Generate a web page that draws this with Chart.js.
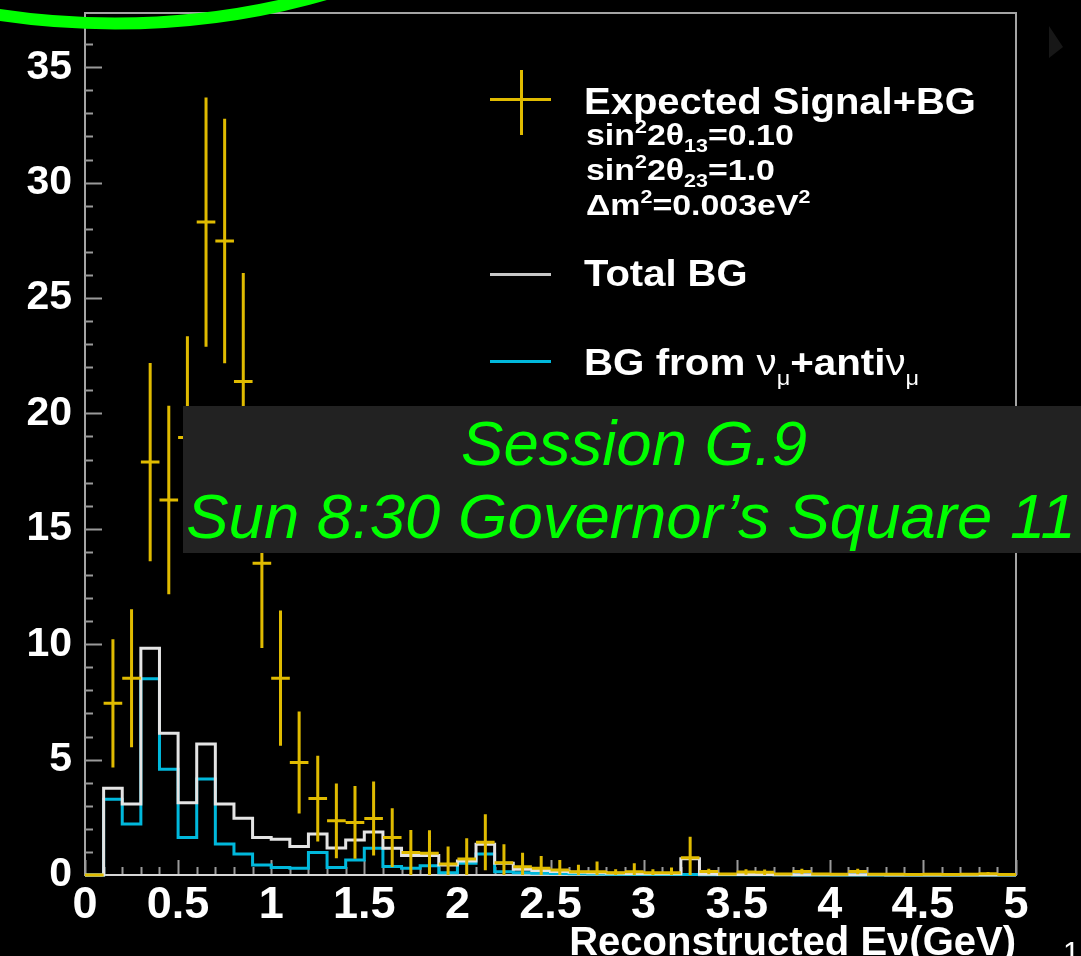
<!DOCTYPE html>
<html>
<head>
<meta charset="utf-8">
<title>Reconstructed Eν spectrum</title>
<script src="https://cdn.jsdelivr.net/npm/chart.js@4.4.1/dist/chart.umd.min.js"></script>
<style>
  html, body { margin: 0; padding: 0; background: #000; overflow: hidden; }
  #wrap { width: 1081px; height: 956px; position: relative; }
  canvas { display: block; }
</style>
</head>
<body>
<div id="wrap"><canvas id="chart" width="1081" height="956"></canvas></div>
<script>
// Reconstructed neutrino energy, 0.1 GeV bins from 0 to 5 GeV
const binLow = [0.0, 0.1, 0.2, 0.3, 0.4, 0.5, 0.6, 0.7, 0.8, 0.9,
                1.0, 1.1, 1.2, 1.3, 1.4, 1.5, 1.6, 1.7, 1.8, 1.9,
                2.0, 2.1, 2.2, 2.3, 2.4, 2.5, 2.6, 2.7, 2.8, 2.9,
                3.0, 3.1, 3.2, 3.3, 3.4, 3.5, 3.6, 3.7, 3.8, 3.9,
                4.0, 4.1, 4.2, 4.3, 4.4, 4.5, 4.6, 4.7, 4.8, 4.9];
const binWidth = 0.1;
const xMax = 5.0;
const yMax = 37.35;

// Total background
const totalBG = [0, 3.76, 3.08, 9.83, 6.14, 3.13, 5.68, 3.08, 2.46, 1.63,
                 1.55, 1.23, 1.78, 1.17, 1.52, 1.86, 1.16, 0.84, 0.84, 0.43,
                 0.61, 1.33, 0.51, 0.25, 0.20, 0.15, 0.12, 0.10, 0.08, 0.06,
                 0.05, 0.05, 0.70, 0.03, 0.02, 0.02, 0.02, 0.01, 0.01, 0.01,
                 0.01, 0.01, 0.01, 0, 0, 0, 0, 0, 0, 0];

// Background from numu + anti-numu
const numuBG = [0, 3.28, 2.21, 8.50, 4.58, 1.63, 4.16, 1.34, 0.91, 0.43,
                0.33, 0.29, 0.98, 0.33, 0.65, 1.16, 0.37, 0.29, 0.40, 0.10,
                0.51, 0.91, 0.14, 0.10, 0.08, 0.06, 0.05, 0.04, 0.03, 0.03,
                0.02, 0.02, 0.02, 0.01, 0.01, 0.01, 0.01, 0.01, 0, 0,
                0, 0, 0, 0, 0, 0, 0, 0, 0, 0];

// Expected signal + background and its statistical error
const signalBG = [0, 7.44, 8.53, 17.89, 16.25, 18.96, 28.29, 27.47, 21.38, 13.51,
                  8.53, 4.87, 3.31, 2.35, 2.28, 2.45, 1.62, 0.97, 0.94, 0.48,
                  0.69, 1.42, 0.53, 0.36, 0.29, 0.22, 0.14, 0.14, 0.10, 0.14,
                  0.10, 0.10, 0.75, 0.15, 0.04, 0.13, 0.12, 0.04, 0.15, 0.04,
                  0.03, 0.15, 0.03, 0.03, 0.02, 0.03, 0.02, 0.03, 0.05, 0.02];
const signalErr = [0, 2.78, 2.99, 4.29, 4.08, 4.38, 5.40, 5.30, 4.70, 3.67,
                   2.93, 2.21, 1.86, 1.62, 1.58, 1.60, 1.27, 0.98, 1.00, 0.75,
                   0.90, 1.21, 0.80, 0.60, 0.53, 0.43, 0.30, 0.44, 0.15, 0.37,
                   0.15, 0.22, 0.91, 0.12, 0.05, 0.12, 0.12, 0.05, 0.12, 0.05,
                   0.04, 0.12, 0.04, 0.04, 0.03, 0.04, 0.03, 0.04, 0.08, 0.03];

const FONT = "'Liberation Sans', Arial, Helvetica, sans-serif";
const COLORS = {
  yellow: '#e0bb00',
  cyan: '#00b8dc',
  white: '#e4e4e4',
  frame: '#a4a4a4',
  tick: '#9a9a9a',
  green: '#00ff00',
  box: '#222222'
};

// Step-histogram outline: a point at each lower bin edge plus the closing edge;
// each bin's value is carried from its lower edge to its upper edge
function histPoints(values) {
  const pts = [{ x: binLow[0], y: 0 }];
  binLow.forEach((lo, i) => pts.push({ x: lo + binWidth, y: values[i] }));
  return pts;
}

// Frame with inward ticks (major every 5 / 0.5, minor every 1 / 0.1)
const framePlugin = {
  id: 'frame',
  beforeDatasetsDraw(chart) {
    const { ctx, chartArea: a, scales: { x, y } } = chart;
    ctx.save();
    ctx.lineWidth = 2;
    ctx.strokeStyle = COLORS.frame;
    ctx.strokeRect(a.left, a.top, a.right - a.left, a.bottom - a.top);

    ctx.strokeStyle = COLORS.tick;
    ctx.beginPath();
    for (let v = 0; v <= Math.floor(y.max); v++) {
      const py = Math.round(y.getPixelForValue(v)) + 0.5;
      const len = v % 5 === 0 ? 17 : 8;
      ctx.moveTo(a.left, py);
      ctx.lineTo(a.left + len, py);
    }
    for (let k = 0; k <= 50; k++) {
      const px = Math.round(x.getPixelForValue(k / 10)) + 0.5;
      const len = k % 5 === 0 ? 15 : 8;
      ctx.moveTo(px, a.bottom);
      ctx.lineTo(px, a.bottom - len);
    }
    ctx.stroke();

    ctx.strokeStyle = '#d6d6d6';
    ctx.beginPath();
    ctx.moveTo(a.left, a.bottom);
    ctx.lineTo(a.right, a.bottom);
    ctx.stroke();
    ctx.restore();
  }
};

// Error crosses for the signal+BG points: bin-wide horizontal bar, vertical ±error
const errorBarPlugin = {
  id: 'errorBars',
  afterDatasetsDraw(chart) {
    const { ctx, scales: { x, y } } = chart;
    const meta = chart.getDatasetMeta(2);
    ctx.save();
    ctx.strokeStyle = COLORS.yellow;
    ctx.lineWidth = 3;
    ctx.beginPath();
    meta.data.forEach((pt, i) => {
      const x0 = x.getPixelForValue(binLow[i]);
      const x1 = x.getPixelForValue(binLow[i] + binWidth);
      ctx.moveTo(x0, pt.y);
      ctx.lineTo(x1, pt.y);
      const e = signalErr[i];
      if (e > 0) {
        ctx.moveTo(pt.x, y.getPixelForValue(Math.max(0, signalBG[i] - e)));
        ctx.lineTo(pt.x, y.getPixelForValue(signalBG[i] + e));
      }
    });
    ctx.stroke();
    ctx.restore();
  }
};

// Draws a run of text pieces (with super/subscripts) stretched horizontally by sx
function richText(ctx, x, baseline, sx, parts) {
  ctx.save();
  ctx.translate(x, baseline);
  ctx.scale(sx, 1);
  ctx.textBaseline = 'alphabetic';
  ctx.textAlign = 'left';
  let cx = 0;
  for (const p of parts) {
    ctx.font = p.font;
    ctx.fillText(p.t, cx, p.dy || 0);
    cx += ctx.measureText(p.t).width;
  }
  ctx.restore();
}

// Legend, session banner and slide decorations
const overlayPlugin = {
  id: 'overlay',
  afterDraw(chart) {
    const { ctx } = chart;
    ctx.save();

    // legend markers
    ctx.lineWidth = 3;
    ctx.strokeStyle = COLORS.yellow;
    ctx.beginPath();
    ctx.moveTo(490, 99.5); ctx.lineTo(551, 99.5);
    ctx.moveTo(521.5, 70); ctx.lineTo(521.5, 135);
    ctx.stroke();
    ctx.strokeStyle = '#c8c8c8';
    ctx.beginPath(); ctx.moveTo(490, 274.5); ctx.lineTo(551, 274.5); ctx.stroke();
    ctx.strokeStyle = COLORS.cyan;
    ctx.beginPath(); ctx.moveTo(490, 361.5); ctx.lineTo(551, 361.5); ctx.stroke();

    // legend texts
    ctx.fillStyle = '#ffffff';
    const big = `bold 36px ${FONT}`;
    const mid = `bold 30px ${FONT}`;
    const sml = `bold 19px ${FONT}`;
    richText(ctx, 584, 114, 1.11, [{ t: 'Expected Signal+BG', font: big }]);
    richText(ctx, 586, 145, 1.13, [
      { t: 'sin', font: mid }, { t: '2', font: sml, dy: -12 }, { t: '2θ', font: mid },
      { t: '13', font: sml, dy: 7 }, { t: '=0.10', font: mid }]);
    richText(ctx, 586, 180, 1.13, [
      { t: 'sin', font: mid }, { t: '2', font: sml, dy: -12 }, { t: '2θ', font: mid },
      { t: '23', font: sml, dy: 7 }, { t: '=1.0', font: mid }]);
    richText(ctx, 586, 215, 1.13, [
      { t: 'Δm', font: mid }, { t: '2', font: sml, dy: -12 },
      { t: '=0.003eV', font: mid }, { t: '2', font: sml, dy: -12 }]);
    richText(ctx, 584, 286, 1.11, [{ t: 'Total BG', font: big }]);
    const nu = `36px ${FONT}`;
    const mu = `21px ${FONT}`;
    richText(ctx, 584, 375, 1.12, [
      { t: 'BG from ', font: big }, { t: 'ν', font: nu }, { t: 'μ', font: mu, dy: 10 },
      { t: '+anti', font: big }, { t: 'ν', font: nu }, { t: 'μ', font: mu, dy: 10 }]);

    // session banner
    ctx.fillStyle = COLORS.box;
    ctx.fillRect(183, 406, 1081 - 183, 147);
    ctx.fillStyle = COLORS.green;
    ctx.font = `italic 63.5px ${FONT}`;
    ctx.textAlign = 'center';
    ctx.textBaseline = 'alphabetic';
    ctx.fillText('Session G.9', 634, 465);
    ctx.fillText('Sun 8:30 Governor’s Square 11', 631, 538);

    // green arc at top-left
    ctx.strokeStyle = COLORS.green;
    ctx.lineWidth = 12;
    ctx.beginPath();
    ctx.ellipse(115, -326.5, 525, 350, 0, 0, Math.PI);
    ctx.stroke();

    // faint play marker top-right
    ctx.fillStyle = '#171717';
    ctx.beginPath();
    ctx.moveTo(1049, 26); ctx.lineTo(1063, 47); ctx.lineTo(1049, 58); ctx.closePath();
    ctx.fill();

    // page number
    ctx.fillStyle = '#ffffff';
    ctx.font = `30px ${FONT}`;
    ctx.textAlign = 'left';
    ctx.fillText('1', 1063, 962);

    ctx.restore();
  }
};

new Chart(document.getElementById('chart'), {
  type: 'line',
  data: {
    datasets: [
      {
        label: 'Total BG',
        data: histPoints(totalBG),
        borderColor: COLORS.white,
        borderWidth: 3,
        stepped: 'after',
        pointRadius: 0,
        fill: false,
        clip: false,
        order: 1
      },
      {
        label: 'BG from νμ+antiνμ',
        data: histPoints(numuBG),
        borderColor: COLORS.cyan,
        borderWidth: 3,
        stepped: 'after',
        pointRadius: 0,
        fill: false,
        clip: false,
        order: 2
      },
      {
        type: 'scatter',
        label: 'Expected Signal+BG',
        data: binLow.map((lo, i) => ({ x: lo + binWidth / 2, y: signalBG[i] })),
        pointRadius: 0,
        showLine: false,
        order: 0
      }
    ]
  },
  options: {
    responsive: false,
    animation: false,
    devicePixelRatio: 1,
    layout: { padding: { top: 13, right: 65, bottom: 0, left: 0 } },
    plugins: { legend: { display: false }, tooltip: { enabled: false } },
    scales: {
      x: {
        type: 'linear',
        min: 0,
        max: xMax,
        ticks: {
          stepSize: 0.5,
          autoSkip: false,
          maxRotation: 0,
          includeBounds: false,
          color: '#ffffff',
          padding: 8,
          font: { family: FONT, size: 45, weight: 'bold', lineHeight: 1 },
          callback: (v) => String(parseFloat(Number(v).toFixed(2)))
        },
        grid: { display: false, drawTicks: false },
        border: { display: false },
        title: {
          display: true,
          text: 'Reconstructed Eν(GeV)',
          align: 'end',
          color: '#ffffff',
          font: { family: FONT, size: 40, weight: 'bold', lineHeight: 1 },
          padding: { top: 0, bottom: -8 }
        },
        afterFit(scale) {
          scale.height = 81;
          scale.paddingLeft = 0;
          scale.paddingRight = 0;
        }
      },
      y: {
        type: 'linear',
        min: 0,
        max: yMax,
        ticks: {
          stepSize: 5,
          includeBounds: false,
          color: '#ffffff',
          padding: 13,
          font: { family: FONT, size: 41, weight: 'bold', lineHeight: 1 }
        },
        grid: { display: false, drawTicks: false },
        border: { display: false },
        afterFit(scale) {
          scale.width = 85;
          scale.paddingTop = 0;
          scale.paddingBottom = 0;
        }
      }
    }
  },
  plugins: [framePlugin, errorBarPlugin, overlayPlugin]
});
</script>
</body>
</html>
